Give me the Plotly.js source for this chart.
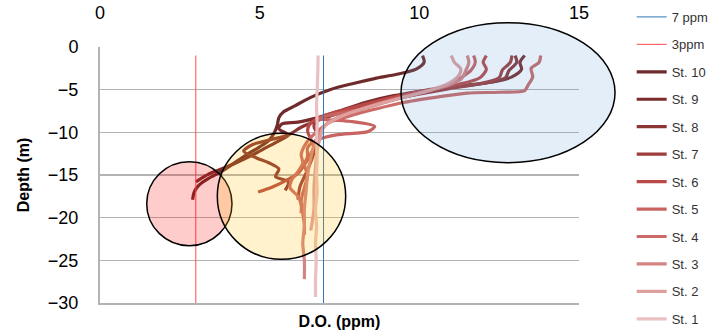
<!DOCTYPE html>
<html>
<head>
<meta charset="utf-8">
<script src="https://cdn.plot.ly/plotly-3.0.1.min.js"></script>
<style>
  html, body { margin: 0; padding: 0; background: #ffffff; }
  #chart { width: 714px; height: 336px; }
</style>
</head>
<body>
<div id="chart"></div>
<script>
// Dissolved oxygen profiles (ppm) against depth (m) for stations 1-10,
// with the 7 ppm and 3 ppm reference levels.

const refDepth = [-1, -30];
const ref7 = [7, 7];
const ref3 = [3, 3];

const st10_do    = [10.1, 10.15, 9.9, 9.3, 8.6, 7.9, 7.2, 6.6, 6.1, 5.75, 5.6, 5.55, 5.45, 5.3, 5.0, 4.6, 4.2, 3.8, 3.4, 3.1, 2.95, 2.9];
const st10_depth = [-1, -1.8, -2.6, -3.2, -3.7, -4.3, -5.0, -5.9, -6.9, -7.6, -8.3, -9.2, -10.1, -10.9, -11.7, -12.6, -13.6, -14.6, -15.4, -16.2, -17.0, -17.9];

const st9_do    = [13.3, 13.15, 13.2, 12.9, 12.3, 11.2, 10.2, 9.2, 8.3, 7.5, 6.8, 6.2, 5.7, 5.6, 5.9, 5.6, 5.2, 4.8, 4.3, 3.8, 3.4, 3.0];
const st9_depth = [-1, -1.8, -2.6, -3.5, -4.1, -4.6, -5.1, -5.7, -6.5, -7.5, -8.3, -8.8, -9.0, -9.6, -10.3, -11.0, -11.8, -12.6, -13.5, -14.3, -14.9, -15.8];

const st8_do    = [13.0, 13.05, 12.8, 12.7, 12.1, 10.9, 9.8, 8.7, 7.7, 6.9, 6.3, 5.9, 5.3, 4.8, 4.5, 4.9, 5.3, 5.6, 5.5, 5.9, 5.8];
const st8_depth = [-1, -1.8, -2.8, -3.6, -4.2, -4.8, -5.5, -6.4, -7.5, -8.5, -9.4, -10.3, -10.9, -11.4, -12.2, -13.0, -13.6, -14.3, -15.2, -15.8, -16.8];

const st7_do    = [12.9, 12.85, 12.6, 12.5, 11.9, 10.9, 9.9, 8.9, 8.0, 7.3, 6.8, 6.7, 6.8, 6.75, 6.7, 6.5, 6.26, 6.2];
const st7_depth = [-1, -1.8, -2.7, -3.6, -4.3, -4.9, -5.6, -6.4, -7.2, -7.9, -8.5, -9.3, -10.2, -11.2, -12.4, -14.4, -16.4, -17.9];

const st6_do    = [12.1, 12.0, 12.1, 11.9, 11.2, 10.3, 9.4, 8.5, 7.7, 7.0, 6.6, 6.5, 6.6, 6.7, 6.6, 6.5, 6.2, 5.85, 5.4, 4.95];
const st6_depth = [-1, -1.8, -2.6, -3.6, -4.4, -5.0, -5.7, -6.5, -7.3, -8.1, -8.9, -9.8, -10.8, -11.8, -12.5, -13.2, -14.8, -15.6, -16.4, -17.0];

const st5_do    = [11.7, 11.75, 11.6, 11.3, 11.0, 10.4, 9.6, 8.8, 8.1, 7.2, 6.8, 7.8, 8.6, 8.4, 7.4, 6.8, 6.5, 6.5, 6.4, 6.5, 6.4, 6.3, 6.35, 6.4, 6.4];
const st5_depth = [-1, -1.8, -2.8, -3.6, -4.4, -5.0, -5.7, -6.5, -7.3, -8.0, -8.4, -8.7, -9.3, -9.9, -10.3, -10.9, -11.8, -12.8, -13.8, -15.0, -16.5, -18.0, -19.5, -20.8, -22.0];

const st4_do    = [13.8, 13.75, 13.5, 13.55, 13.4, 13.3, 12.5, 11.5, 10.5, 9.5, 8.6, 7.8, 7.2, 6.9, 6.6, 6.4, 6.3, 6.35, 6.2, 6.0, 5.95, 6.2, 6.3, 6.3];
const st4_depth = [-1, -1.8, -2.5, -3.5, -4.5, -5.1, -5.3, -5.4, -5.9, -6.5, -7.3, -8.1, -8.8, -9.6, -10.6, -11.6, -12.6, -13.6, -14.6, -15.6, -16.5, -17.5, -18.5, -19.5];

const st3_do    = [11.5, 11.55, 11.45, 11.3, 10.8, 10.0, 9.2, 8.4, 7.6, 7.1, 6.9, 6.7, 6.6, 6.5, 6.45, 6.4, 6.4, 6.35, 6.4, 6.4];
const st3_depth = [-1, -1.8, -2.8, -3.8, -4.6, -5.4, -6.2, -7.1, -8.0, -9.0, -10.0, -11.5, -13.0, -15.0, -17.0, -19.0, -21.0, -23.0, -25.0, -27.2];

const st2_do    = [11.0, 11.1, 11.3, 11.2, 10.9, 10.4, 9.6, 8.8, 8.0, 7.4, 7.0, 6.9, 6.8, 6.75, 6.7, 6.7, 6.6];
const st2_depth = [-1, -1.8, -2.6, -3.5, -4.3, -5.0, -5.8, -6.6, -7.5, -8.4, -9.4, -10.6, -12.0, -14.0, -16.5, -19.0, -21.5];

const st1_do    = [6.83, 6.82, 6.8, 6.78, 6.8, 6.78, 6.8, 6.78, 6.8, 6.75, 6.78, 6.75, 6.77, 6.75, 6.75];
const st1_depth = [-1, -3, -5, -7, -9, -11, -13, -15, -17, -19, -21, -23, -25, -27, -29.3];

const stationNames = ['St. 10', 'St. 9', 'St. 8', 'St. 7', 'St. 6', 'St. 5', 'St. 4', 'St. 3', 'St. 2', 'St. 1'];
const stationDO    = [st10_do, st9_do, st8_do, st7_do, st6_do, st5_do, st4_do, st3_do, st2_do, st1_do];
const stationDepth = [st10_depth, st9_depth, st8_depth, st7_depth, st6_depth, st5_depth, st4_depth, st3_depth, st2_depth, st1_depth];
const stationColors = ['#6e2b2b', '#7a2c2c', '#8b3535', '#a03d3d', '#b94a48', '#c86462', '#cc6b68', '#d48482', '#dfa0a0', '#eac0c0'];

const FONT = 'Liberation Sans, Arial, sans-serif';

const traces = [
  { x: ref7, y: refDepth, name: '7 ppm', mode: 'lines', xaxis: 'x2',
    line: { color: '#2e75b6', width: 1 }, legendgroup: 'g0' },
  { x: ref3, y: refDepth, name: '3ppm', mode: 'lines', xaxis: 'x2',
    line: { color: '#ff4a4a', width: 1 }, legendgroup: 'g1' }
];
stationNames.forEach((name, i) => {
  traces.push({
    x: stationDO[i], y: stationDepth[i], name: name, mode: 'lines',
    line: { color: stationColors[i], width: 3.2, shape: 'spline', smoothing: 0.8 },
    legendgroup: 'g' + (i + 2)
  });
});

// Highlight zones drawn over the profiles (paper coordinates so they may spill past the frame)
const shapes = [
  { type: 'circle', xref: 'paper', yref: 'paper', x0: 0.0975, x1: 0.2756, y0: 0.224, y1: 0.552,
    fillcolor: 'rgba(255,0,0,0.2)', line: { color: '#000000', width: 1.5 }, layer: 'above' },
  { type: 'circle', xref: 'paper', yref: 'paper', x0: 0.2449, x1: 0.5129, y0: 0.1707, y1: 0.6629,
    fillcolor: 'rgba(255,192,0,0.2)', line: { color: '#000000', width: 1.5 }, layer: 'above' },
  { type: 'circle', xref: 'paper', yref: 'paper', x0: 0.6284, x1: 1.0752, y0: 0.548, y1: 1.0949,
    fillcolor: 'rgba(91,155,213,0.17)', line: { color: '#000000', width: 1.5 }, layer: 'above' }
];

const layout = {
  width: 714, height: 336,
  margin: { l: 100, r: 135, t: 47, b: 33, autoexpand: false },
  paper_bgcolor: '#ffffff', plot_bgcolor: '#ffffff',
  font: { family: FONT, color: '#000000' },
  showlegend: true,
  legend: {
    x: 1.110, xanchor: 'left', y: 1.176, yanchor: 'top', maxheight: 400,
    font: { family: FONT, size: 13, color: '#333333' },
    traceorder: 'grouped', tracegroupgap: 7.55, bgcolor: 'rgba(0,0,0,0)'
  },
  xaxis: {
    range: [0, 15], showgrid: false, zeroline: false, showticklabels: false, ticks: '',
    showline: true, linecolor: '#b3b3b3', linewidth: 2,
    title: { text: '<b>D.O. (ppm)</b>', font: { family: FONT, size: 16 }, standoff: 12 }
  },
  xaxis2: {
    range: [0, 15], overlaying: 'x', side: 'top', anchor: 'y',
    tickvals: [0, 5, 10, 15], ticks: '', showgrid: false, zeroline: false, showline: false,
    tickfont: { family: FONT, size: 18, color: '#000000' }, ticklabelstandoff: 23
  },
  yaxis: {
    range: [-30, 0], dtick: 5, ticks: '', zeroline: false,
    showgrid: true, gridcolor: '#b3b3b3', gridwidth: 1.3,
    showline: true, linecolor: '#b3b3b3', linewidth: 2,
    tickfont: { family: FONT, size: 18, color: '#000000' }, ticklabelstandoff: 16,
    title: { text: '<b>Depth (m)</b>', font: { family: FONT, size: 16 }, standoff: 14 }
  },
  shapes: shapes
};

Plotly.newPlot('chart', traces, layout, { staticPlot: true, displayModeBar: false });
</script>
</body>
</html>
